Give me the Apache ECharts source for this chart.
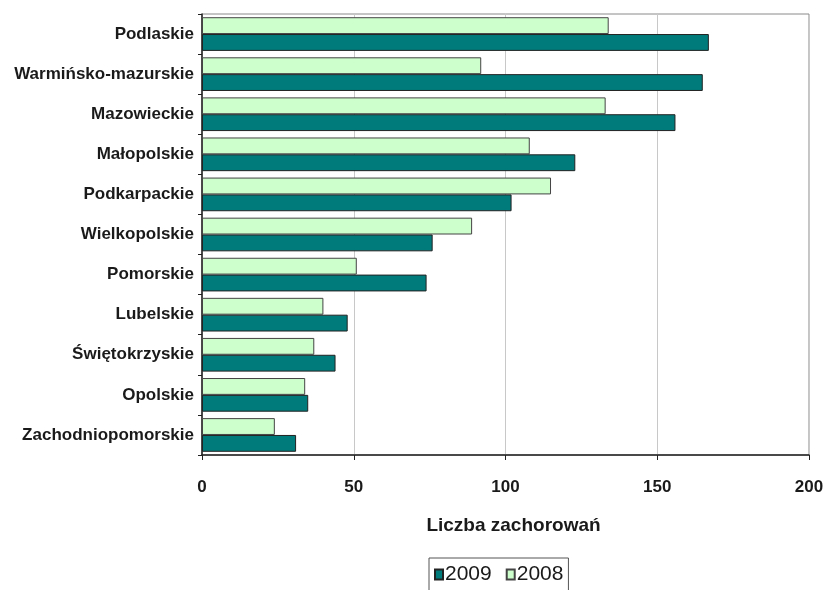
<!DOCTYPE html>
<html>
<head>
<meta charset="utf-8">
<script src="https://cdn.jsdelivr.net/npm/echarts@6/dist/echarts.min.js"></script>
<style>
html,body{margin:0;padding:0;background:#fff;}
#chart{width:829px;height:590px;}
</style>
</head>
<body>
<div id="chart"></div>
<script>
const categories = ['Podlaskie','Warmińsko-mazurskie','Mazowieckie','Małopolskie','Podkarpackie','Wielkopolskie','Pomorskie','Lubelskie','Świętokrzyskie','Opolskie','Zachodniopomorskie'];
const values2009 = [167,165,156,123,102,76,74,48,44,35,31];
const values2008 = [134,92,133,108,115,89,51,40,37,34,24];
const xTicks = [0,50,100,150,200];

const chart = echarts.init(document.getElementById('chart'));
const font = 'Liberation Sans, Arial, sans-serif';
chart.setOption({
  animation:false,
  grid:{left:202,right:20,top:14,bottom:135,show:true,borderColor:'#8a8a8a',borderWidth:1},
  xAxis:{
    type:'value',min:xTicks[0],max:xTicks[xTicks.length-1],interval:50,
    name:'Liczba zachorowań',nameLocation:'middle',nameGap:61,
    nameTextStyle:{fontFamily:font,fontWeight:'bold',fontSize:19,color:'#1a1a1a',padding:[0,0,0,16]},
    axisLine:{show:true,lineStyle:{color:'#222',width:1.5}},
    axisTick:{show:true,length:5,lineStyle:{color:'#222'}},
    axisLabel:{fontFamily:font,fontWeight:'bold',fontSize:17,color:'#1a1a1a',margin:24},
    splitLine:{show:true,lineStyle:{color:'#c8c8c8',width:1}}
  },
  yAxis:{
    type:'category',data:categories,inverse:true,
    axisLine:{show:true,lineStyle:{color:'#222',width:1.5}},
    axisTick:{show:true,length:4,lineStyle:{color:'#222'}},
    axisLabel:{fontFamily:font,fontWeight:'bold',fontSize:17,color:'#1a1a1a',margin:8}
  },
  legend:{
    data:['2009','2008'],top:558,left:429,
    show:true,borderColor:'#555',borderWidth:1,padding:[6,5,8,5],
    icon:'rect',itemWidth:8,itemHeight:10,itemGap:14,
    textStyle:{fontFamily:font,fontSize:21,color:'#1a1a1a',padding:[0,0,0,-3]}
  },
  series:[
    {name:'2008',type:'bar',data:values2008,barGap:'0%',barCategoryGap:'16%',
     itemStyle:{color:'#ccffcc',borderColor:'#444',borderWidth:1}},
    {name:'2009',type:'bar',data:values2009,barGap:'0%',barCategoryGap:'16%',
     itemStyle:{color:'#007b7b',borderColor:'#222',borderWidth:1}}
  ]
});
</script>
</body>
</html>
